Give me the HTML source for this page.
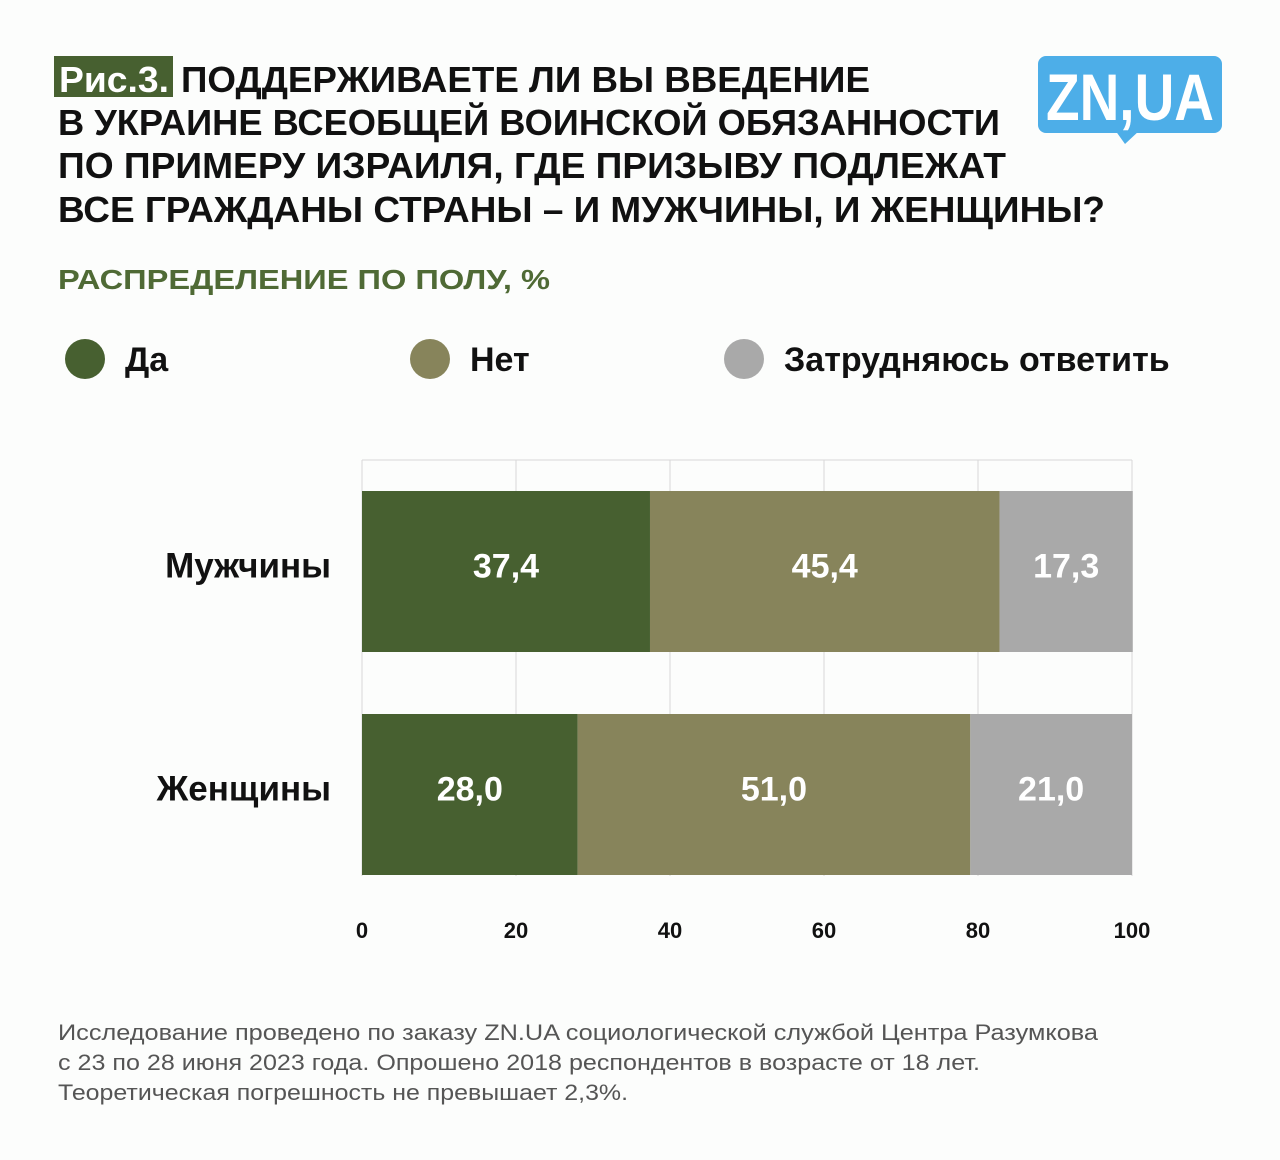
<!DOCTYPE html>
<html><head><meta charset="utf-8"><style>
body{margin:0;background:#fcfdfc;}
svg{display:block;font-family:"Liberation Sans","DejaVu Sans",sans-serif;}
</style></head><body>
<svg id="c" width="1280" height="1160" viewBox="0 0 1280 1160">
<rect width="1280" height="1160" fill="#fcfdfc"/>
<g font-weight="bold" font-size="36" fill="#111">
<rect x="54" y="56" width="119" height="41" fill="#476030"/>
<text x="59" y="92" fill="#fff" textLength="110" lengthAdjust="spacingAndGlyphs">Рис.3.</text>
<text x="181" y="92" textLength="689" lengthAdjust="spacingAndGlyphs">ПОДДЕРЖИВАЕТЕ ЛИ ВЫ ВВЕДЕНИЕ</text>
<text x="58" y="135" textLength="942" lengthAdjust="spacingAndGlyphs">В УКРАИНЕ ВСЕОБЩЕЙ ВОИНСКОЙ ОБЯЗАННОСТИ</text>
<text x="58" y="178" textLength="948" lengthAdjust="spacingAndGlyphs">ПО ПРИМЕРУ ИЗРАИЛЯ, ГДЕ ПРИЗЫВУ ПОДЛЕЖАТ</text>
<text x="58" y="222" textLength="1047" lengthAdjust="spacingAndGlyphs">ВСЕ ГРАЖДАНЫ СТРАНЫ – И МУЖЧИНЫ, И ЖЕНЩИНЫ?</text>
</g>
<g>
<rect x="1038" y="56" width="184" height="77" rx="8" fill="#4daee8"/>
<polygon points="1115,130 1140,130 1125,144" fill="#4daee8"/>
<text x="1130" y="120" text-anchor="middle" font-size="66" font-weight="bold" fill="#fff" textLength="168" lengthAdjust="spacingAndGlyphs">ZN,UA</text>
</g>
<text x="58" y="289" font-size="28" font-weight="bold" fill="#4f6a35" textLength="492" lengthAdjust="spacingAndGlyphs">РАСПРЕДЕЛЕНИЕ ПО ПОЛУ, %</text>
<g id="legend" font-size="34" font-weight="bold" fill="#111"></g>
<g id="plot"></g>
<g font-size="22" fill="#555">
<text x="58" y="1040" textLength="1040" lengthAdjust="spacingAndGlyphs">Исследование проведено по заказу ZN.UA социологической службой Центра Разумкова</text>
<text x="58" y="1070" textLength="922" lengthAdjust="spacingAndGlyphs">с 23 по 28 июня 2023 года. Опрошено 2018 респондентов в возрасте от 18 лет.</text>
<text x="58" y="1100" textLength="570" lengthAdjust="spacingAndGlyphs">Теоретическая погрешность не превышает 2,3%.</text>
</g>
</svg>
<script>
const categories=["Мужчины","Женщины"];
const seriesNames=["Да","Нет","Затрудняюсь ответить"];
const yesValues=[37.4,28.0];
const noValues=[45.4,51.0];
const dkValues=[17.3,21.0];
const tickValues=[0,20,40,60,80,100];
const tickLabels=["0","20","40","60","80","100"];

const NS="http://www.w3.org/2000/svg";
const colors=["#476030","#87845b","#a9a9a9"];
const X0=362,X1=1132,TOP=460,BOT=876;
const x=v=>X0+(X1-X0)*v/100;
const bandTop=i=>491+i*223, bandH=161;
function mk(tag,attrs,parent,txt){const e=document.createElementNS(NS,tag);for(const k in attrs)e.setAttribute(k,attrs[k]);if(txt!==undefined)e.textContent=txt;parent.appendChild(e);return e;}
const plot=document.getElementById('plot');
tickValues.forEach((t,i)=>{
  const g=mk('line',{x1:x(t),x2:x(t),y1:TOP,y2:BOT,stroke:'#d8d8d8','stroke-width':1},plot);
  
  
  const l=mk('text',{x:x(t),y:938,'text-anchor':'middle','font-size':22,'font-weight':'bold',fill:'#111'},plot,tickLabels[i]);
  
  
});
const topBorder=mk('line',{x1:X0,x2:X1,y1:TOP,y2:TOP,stroke:'#d8d8d8'},plot);


const series=[yesValues,noValues,dkValues];
categories.forEach((c,i)=>{
  const cl=mk('text',{x:331,y:bandTop(i)+bandH/2+6,'text-anchor':'end','font-size':35,'font-weight':'bold',fill:'#111'},plot,c);
  
  
  let acc=0;
  series.forEach((s,j)=>{
    const v=s[i];
    const r=mk('rect',{x:x(acc),y:bandTop(i),width:x(acc+v)-x(acc),height:bandH,fill:colors[j]},plot);
    
    
    const t=mk('text',{x:(x(acc)+x(acc+v))/2,y:bandTop(i)+bandH/2+6,'text-anchor':'middle','font-size':34,'font-weight':'bold',fill:'#fff'},plot,v.toFixed(1).replace('.',','));
    
    
    acc+=v;
  });
});
const legend=document.getElementById('legend');
const lx=[85,430,744];
seriesNames.forEach((n,j)=>{
  const c=mk('circle',{cx:lx[j],cy:359,r:20,fill:colors[j]},legend);
  
  
  const t=mk('text',{x:lx[j]+40,y:371},legend,n);
  
  
});
</script>
</body></html>
